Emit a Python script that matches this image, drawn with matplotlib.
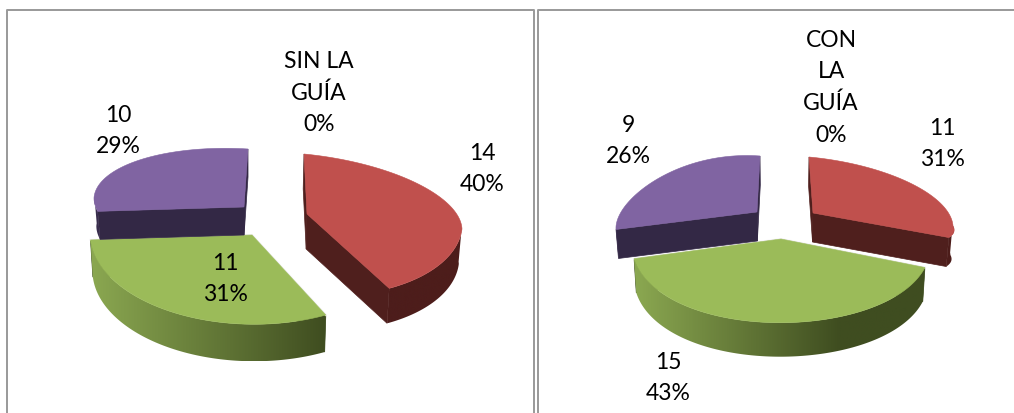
import numpy as np
import matplotlib
matplotlib.use("Agg")
import matplotlib.pyplot as plt
from matplotlib.colors import LinearSegmentedColormap
from matplotlib.patches import Polygon

# chart data
names_left = ["SIN LA\nGUÍA", "", "", ""]
values_left = [0, 14, 11, 10]
names_right = ["CON\nLA\nGUÍA", "", "", ""]
values_right = [0, 11, 15, 9]

# colours: top face, wall, rim light side, rim dark side
top_colors = [None, "#C0504D", "#9BBB59", "#8064A2"]
wall_colors = [None, "#4F1F1D", "#46552A", "#332845"]
rim_light = [None, "#5A2522", "#8BA851", "#3A2E4E"]
rim_dark = [None, "#4D1D1B", "#3F4D20", "#332845"]

# how each exploded slice sits on the page
# cx, cy, rx, ry_back, ry_front, tilt, bow, lean_back, lean_front, depth
view_left = [None,
             (307, 215, 155, 60, 81, 15, 0, -3, 11, 35),
             (252, 236, 160, 88, 88, 15, 0, 25, 25, 37),
             (244, 208, 150, 58, 59, 9, 0, 4, 0, 28)]
view_right = [None,
              (813, 214, 140, 56, 32, 13, 0, -4, -18, 29),
              (781, 240, 148, 83, 83, -10, 6, -20, -20, 34),
              (757, 213, 141, 56, 56, 10, 25, 3, 3, 29)]
grad_end_left = 326
grad_end_right = 840
pie_x_left = 250
pie_x_right = 781

label_pos_left = [(319, 93), (482, 169), (225, 279), (118, 131)]
label_pos_right = [(831, 88), (942, 144), (668, 378), (628, 141)]


def rim_points(view, theta):
    cx, cy, rx, ry_b, ry_f, tilt, bow, lean_b, lean_f, depth = view
    x_u = np.sin(theta)
    y_u = np.cos(theta)
    ry = np.where(y_u > 0, ry_b, ry_f)
    lean = np.where(y_u > 0, lean_b, lean_f)
    px = cx + rx * x_u + lean * y_u
    py = cy - ry * y_u + tilt * x_u + bow * x_u ** 2
    return px, py


def draw_slice(ax, view, start, end, i, grad_end, pie_x):
    cx, cy = view[0], view[1]
    depth = view[9]
    theta = np.linspace(start, end, 160)
    px, py = rim_points(view, theta)

    # the lower edge pulls in a little towards the middle of the pie
    low_x = px + (pie_x - px) * 0.015
    low_cx = cx + (pie_x - cx) * 0.015

    # straight walls
    for k in [0, -1]:
        wall = [(cx, cy), (px[k], py[k]), (low_x[k], py[k] + depth), (low_cx, cy + depth)]
        ax.fill(*zip(*wall), color=wall_colors[i], lw=0.5, zorder=i)

    # rim only on the front half, shaded from left to right
    front = np.cos(theta) < 0.05
    if front.sum() > 1:
        outline = np.c_[np.r_[px[front], low_x[front][::-1]],
                        np.r_[py[front], (py[front] + depth)[::-1]]]
        patch = Polygon(outline, closed=True, transform=ax.transData, fc="none", ec="none")
        ax.add_patch(patch)
        cmap = LinearSegmentedColormap.from_list("rim", [rim_light[i], rim_dark[i]])
        x0 = outline[:, 0].min()
        x1 = outline[:, 0].max()
        shade = np.clip((np.linspace(x0, x1, 256) - x0) / max(grad_end - x0, 1), 0, 1)
        img = ax.imshow(shade[np.newaxis, :], cmap=cmap, vmin=0, vmax=1, aspect="auto",
                        extent=(x0, x1, outline[:, 1].max(), outline[:, 1].min()), zorder=i)
        img.set_clip_path(patch)

    # thin light line where the green slice overlaps its neighbours
    if i == 2:
        ax.plot([px[0], cx, px[-1]], [py[0], cy, py[-1]], color="#F4F2F6", lw=1.4, zorder=i)
    ax.fill(np.r_[cx, px], np.r_[cy, py], color=top_colors[i], lw=0.4, zorder=i)


def draw_pie(ax, names, values, views, label_pos, grad_end, pie_x):
    total = sum(values)
    bounds = np.cumsum([0] + values) / total * 2 * np.pi
    # back slices first, the green one sits in front
    for i in [3, 1, 2]:
        draw_slice(ax, views[i], bounds[i], bounds[i + 1], i, grad_end, pie_x)
    for i in range(len(values)):
        pct = round(values[i] / total * 100)
        if names[i]:
            text = "{}\n{}%".format(names[i], pct)
        else:
            text = "{}\n{}%".format(values[i], pct)
        ax.text(label_pos[i][0], label_pos[i][1], text, ha="center", va="center",
                fontsize=16.5, family="Lato", color="black", linespacing=1.6, zorder=10)


fig = plt.figure(figsize=(10.14, 4.14), dpi=100)
ax = fig.add_axes([0, 0, 1, 1])

# panel borders
ax.plot([7, 7, 534, 534], [414, 11, 11, 414], color="#999999", lw=1.4)
ax.plot([538, 538, 1014], [414, 11, 11], color="#999999", lw=1.4)

draw_pie(ax, names_left, values_left, view_left, label_pos_left, grad_end_left, pie_x_left)
draw_pie(ax, names_right, values_right, view_right, label_pos_right, grad_end_right, pie_x_right)

ax.set_xlim(0, 1014)
ax.set_ylim(414, 0)
ax.axis("off")

fig.savefig("out.png", dpi=100)
